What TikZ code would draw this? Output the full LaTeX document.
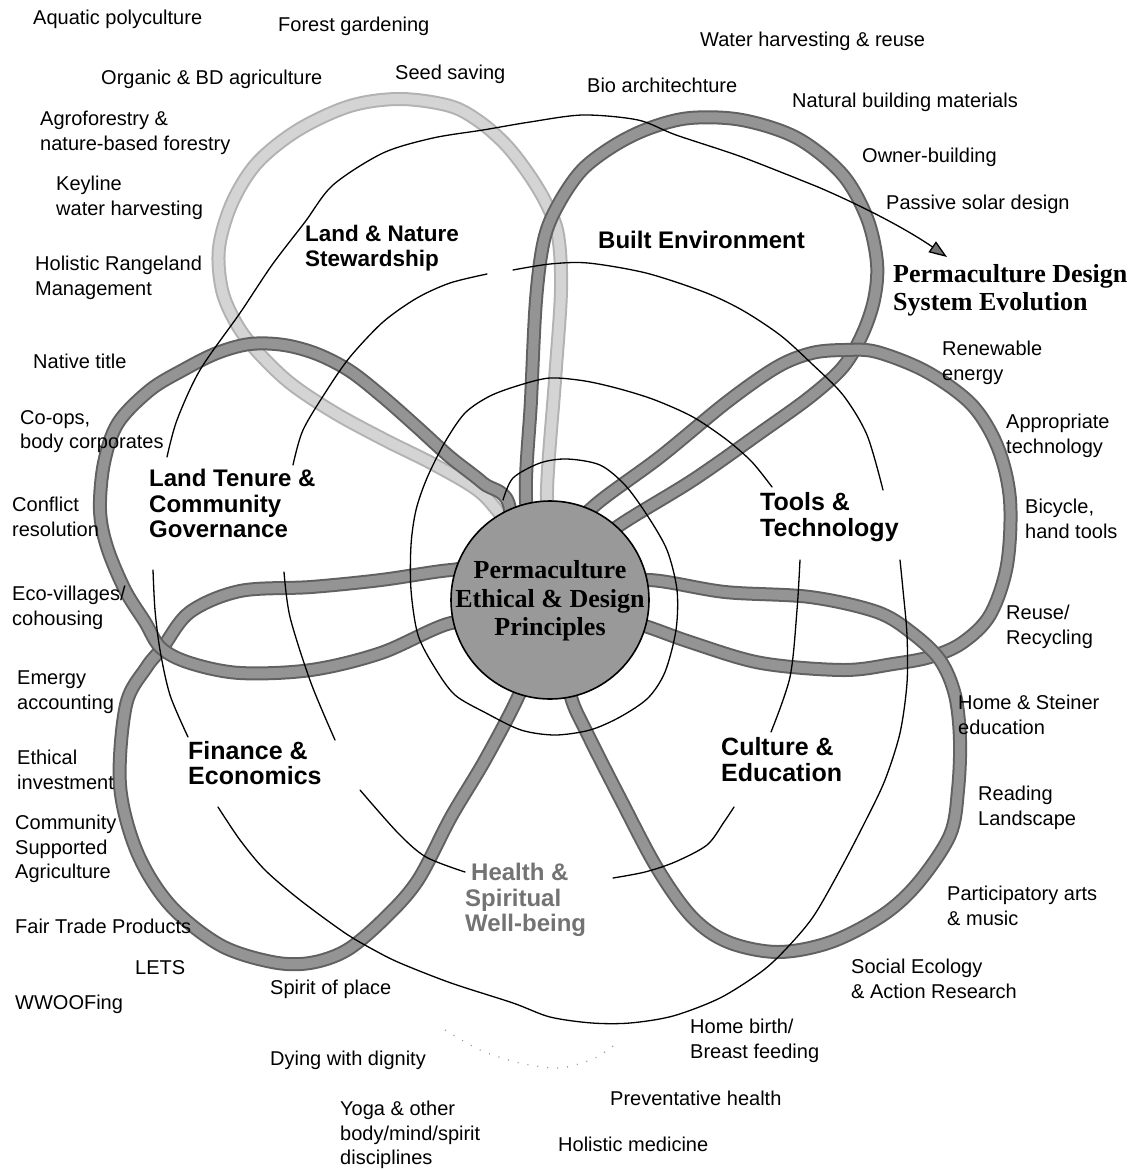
\documentclass[tikz,border=0pt]{standalone}
\usepackage{fontspec}
\setmainfont{Liberation Sans}
\newfontfamily\serifbf{Liberation Serif}
\usetikzlibrary{arrows.meta}
\begin{document}
\begin{tikzpicture}[x=1pt,y=-1pt,
 lbl/.style={font=\fontsize{20}{24.5}\selectfont, align=left, anchor=north west, inner sep=0pt},
 plbl/.style={font=\fontsize{24}{25.5}\selectfont\bfseries, align=left, anchor=north west, inner sep=0pt},
 band/.style={draw=black!62, line width=2pt, double=black!42, double distance=10pt, line join=round},
 lightband/.style={draw=black!30, line width=2pt, double=black!17, double distance=10pt, line join=round},
 spiral/.style={draw=black, line width=1.3pt, line cap=round, line join=round},
]
\useasboundingbox[fill=white] (0,0) rectangle (1143,1170);

% faint trace of the health petal
\draw[black!40, line width=1.3pt, dash pattern=on 1pt off 9pt] plot[smooth] coordinates {(445,1030) (480,1050) (520,1063) (560,1068) (595,1058) (618,1042)};

% petals
\draw[lightband] plot[smooth cycle, tension=0.55] coordinates {(550,560) (547,490) (555,380) (561,290) (558,235) (547,205) (530,176) (507,146) (480,122) (450,106) (400,99) (350,106) (298,130) (257,163) (232,203) (219,248) (222,290) (236,323) (256,350) (290,383) (335,413) (385,440) (435,465) (480,492) (510,525)};
\draw[band] plot[smooth cycle, tension=0.55] coordinates {(540,560) (526,500) (531,400) (536,300) (544,240) (558,205) (582,170) (615,145) (650,128) (690,118) (742,120) (797,138) (842,174) (867,218) (877,263) (874,300) (862,335) (843,367) (810,397) (760,433) (693,480) (617,527) (580,560)};
\draw[band] plot[smooth cycle, tension=0.55] coordinates {(570,540) (593,507) (660,457) (727,402) (777,367) (812,353) (845,350) (877,352) (927,372) (972,405) (998,448) (1010,500) (1007,565) (990,615) (962,643) (930,657) (893,664) (843,670) (761,663) (693,643) (648,627) (600,612)};
\draw[band] plot[smooth cycle, tension=0.55] coordinates {(600,590) (648,580) (725,592) (810,597) (877,612) (912,633) (940,660) (955,695) (960,740) (958,790) (950,835) (918,883) (883,915) (831,942) (778,952) (728,942) (692,917) (657,868) (621,800) (588,735) (571,697) (565,650)};
\draw[band] plot[smooth cycle, tension=0.55] coordinates {(535,650) (518,697) (485,760) (451,817) (418,880) (385,918) (347,950) (310,963) (272,962) (220,945) (170,905) (137,852) (120,785) (126,705) (146,668) (163,647) (190,612) (240,591) (311,587) (381,580) (451,570) (500,570)};
\draw[band] plot[smooth cycle, tension=0.55] coordinates {(500,625) (451,623) (381,653) (311,670) (240,673) (190,663) (161,648) (145,622) (125,590) (107,547) (100,510) (104,463) (118,423) (150,390) (183,370) (217,353) (250,344) (284,345) (317,354) (350,371) (383,397) (417,427) (450,457) (483,483) (510,510)};

% spiral
\draw[spiral] plot[smooth] coordinates {(503,500) (513,478) (540,463) (567,459) (600,465) (625,485) (647,515) (667,550) (677,590) (676,630) (665,672) (648,698) (620,717) (590,730) (555,735) (521,730) (486,713) (455,695) (435,668) (418,635) (411,590) (411,545) (416,510) (427,478) (445,442) (465,413) (490,396) (520,385) (550,378) (585,381) (620,389) (655,400) (693,417) (727,440) (752,462) (772,487)};
\draw[spiral] plot[smooth] coordinates {(800,560) (797,610) (790,677) (771,732)};
\draw[spiral] plot[smooth] coordinates {(734,807) (724,822) (707,845) (675,862) (645,872) (613,878)};
\draw[spiral] plot[smooth] coordinates {(465,872) (426,857) (398,833) (360,790)};
\draw[spiral] plot[smooth] coordinates {(335,740) (311,683) (290,617) (284,572)};
\draw[spiral] plot[smooth] coordinates {(293,465) (303,430) (327,390) (350,357) (383,322) (417,298) (450,283) (487,274)};
\draw[spiral] plot[smooth] coordinates {(513,270) (550,264) (588,263) (646,273) (704,292) (742,310) (780,335) (811,363) (843,395) (867,435) (883,490)};
\draw[spiral] plot[smooth] coordinates {(900,560) (903,590) (907,635) (907,683) (900,733) (885,780) (866,820) (840,870) (813,917) (785,950) (761,972) (720,998) (673,1016) (630,1023) (592,1023) (550,1017) (513,1003) (451,983) (400,963) (374,950) (345,933) (300,900) (265,870) (240,840) (218,807)};
\draw[spiral] plot[smooth] coordinates {(188,737) (170,695) (160,650) (155,610) (153,570)};
\draw[spiral] plot[smooth] coordinates {(167,457) (177,420) (200,370) (240,313) (272,265) (305,222) (333,185) (383,153) (433,138) (483,130) (530,122) (583,115) (638,120) (676,135) (742,157) (818,187)};
\coordinate (sprev) at (818,187);
\coordinate (stip) at (947,257);
\draw[spiral, -{Triangle[length=18pt,width=13pt,fill=black!55]}] (sprev) .. controls (860,205) and (905,228) .. (stip);

% centre
\node[circle, minimum size=198pt, inner sep=0pt, draw=black, line width=1.6pt, fill=black!40] (ctr) at (550,600) {};
\node[font=\serifbf\bfseries\fontsize{26}{28.5}\selectfont, align=center, inner sep=0pt] (ctrtxt) at (550,601) {Permaculture\\Ethical \& Design\\Principles};

\node[font=\serifbf\bfseries\fontsize{26}{28}\selectfont, align=left, anchor=north west, inner sep=0pt] (evo) at (893,264) {Permaculture Design\\System Evolution};

% petal labels
\node[plbl, font=\fontsize{22.5}{25}\selectfont\bfseries] (p1) at (305,225) {Land \& Nature\\Stewardship};
\node[plbl] (p2) at (598,231) {Built Environment};
\node[plbl] (p3) at (149,469) {Land Tenure \&\\Community\\Governance};
\node[plbl, font=\fontsize{25}{26}\selectfont\bfseries] (p4) at (760,492) {Tools \&\\Technology};
\node[plbl, font=\fontsize{25}{25}\selectfont\bfseries] (p5) at (188,741) {Finance \&\\Economics};
\node[plbl, font=\fontsize{25}{26}\selectfont\bfseries] (p6) at (721,737) {Culture \&\\Education};
\node[plbl, text=black!55] (p7) at (465,863) {\hspace*{6pt}Health \&\\Spiritual\\Well-being};

% outer labels
\node[lbl] (a1) at (33,10) {Aquatic polyculture};
\node[lbl] (a2) at (278,17) {Forest gardening};
\node[lbl] (a3) at (700,32) {Water harvesting \& reuse};
\node[lbl] (a4) at (101,70) {Organic \& BD agriculture};
\node[lbl] (a5) at (395,65) {Seed saving};
\node[lbl] (a6) at (587,78) {Bio architechture};
\node[lbl] (a7) at (792,93) {Natural building materials};
\node[lbl] (a8) at (40,111) {Agroforestry \&\\nature-based forestry};
\node[lbl] (a9) at (862,148) {Owner-building};
\node[lbl] (a10) at (56,176) {Keyline\\water harvesting};
\node[lbl] (a11) at (886,195) {Passive solar design};
\node[lbl] (a12) at (35,256) {Holistic Rangeland\\Management};
\node[lbl] (a13) at (33,354) {Native title};
\node[lbl] (a14) at (942,341) {Renewable\\energy};
\node[lbl] (a15) at (20,410) {Co-ops,\\body corporates};
\node[lbl] (a16) at (1006,414) {Appropriate\\technology};
\node[lbl] (a17) at (12,497) {Conflict\\resolution};
\node[lbl] (a18) at (1025,499) {Bicycle,\\hand tools};
\node[lbl] (a19) at (12,586) {Eco-villages/\\cohousing};
\node[lbl] (a20) at (1006,605) {Reuse/\\Recycling};
\node[lbl] (a21) at (17,671) {Emergy\\accounting};
\node[lbl] (a22) at (958,695) {Home \& Steiner\\education};
\node[lbl] (a23) at (17,750) {Ethical\\investment};
\node[lbl] (a24) at (978,786) {Reading\\Landscape};
\node[lbl] (a25) at (15,815) {Community\\Supported\\Agriculture};
\node[lbl] (a26) at (947,886) {Participatory arts\\\& music};
\node[lbl] (a27) at (15,919) {Fair Trade Products};
\node[lbl] (a28) at (135,960) {LETS};
\node[lbl] (a29) at (851,959) {Social Ecology\\\& Action Research};
\node[lbl] (a30) at (270,980) {Spirit of place};
\node[lbl] (a31) at (15,995) {WWOOFing};
\node[lbl] (a32) at (690,1019) {Home birth/\\Breast feeding};
\node[lbl] (a33) at (270,1051) {Dying with dignity};
\node[lbl] (a34) at (610,1091) {Preventative health};
\node[lbl] (a35) at (340,1101) {Yoga \& other\\body/mind/spirit\\disciplines};
\node[lbl] (a36) at (558,1137) {Holistic medicine};
\end{tikzpicture}
\end{document}
